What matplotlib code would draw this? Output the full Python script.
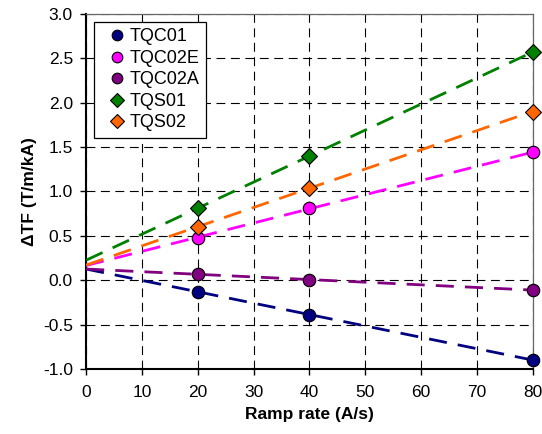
import numpy as np
import matplotlib
matplotlib.use("Agg")
import matplotlib.pyplot as plt

plt.rcParams['font.family'] = ['Liberation Sans', 'DejaVu Sans']

# ramp rates (A/s)
ramp = [20, 40, 80]

# delta TF per magnet (T/m/kA)
tqc01 = [-0.13, -0.39, -0.90]
tqc02e = [0.48, 0.81, 1.44]
tqc02a = [0.07, 0.00, -0.11]
tqs01 = [0.81, 1.40, 2.57]
tqs02 = [0.60, 1.04, 1.90]

names = ["TQC01", "TQC02E", "TQC02A", "TQS01", "TQS02"]
series = [tqc01, tqc02e, tqc02a, tqs01, tqs02]
colors = ["#000080", "#FF00FF", "#800080", "#008000", "#FF6600"]
markers = ["o", "o", "o", "D", "D"]

fig = plt.figure(figsize=(5.42, 4.34), dpi=100)
ax = fig.add_axes([0.159, 0.150, 0.824, 0.818])

xfit = np.array([0, 80])
for name, ys, c, m in zip(names, series, colors, markers):
    # linear trend line from 0 to 80
    k, b = np.polyfit(ramp, ys, 1)
    ax.plot(xfit, k * xfit + b, color=c, lw=2.0, dashes=(6.5, 4), zorder=3)
    ax.plot(ramp, ys, linestyle="none", marker=m, color=c, markeredgecolor="black",
            markeredgewidth=0.8, markersize=9 if m == "o" else 8, label=name,
            zorder=4, clip_on=False)

ax.set_xlim(0, 80)
ax.set_ylim(-1.0, 3.0)
ax.set_xticks(range(0, 81, 10))
ax.set_yticks(np.arange(-1.0, 3.01, 0.5))
ax.yaxis.set_major_formatter(matplotlib.ticker.FormatStrFormatter("%.1f"))
ax.grid(True, color="black", linestyle=(0, (8, 5)), lw=0.8)
ax.set_axisbelow(True)
ax.tick_params(direction="out", length=4.5, width=1, labelsize=12.5, colors="black")
ax.tick_params(axis="y", pad=5)
ax.tick_params(axis="x", pad=7)

for s in ["left", "bottom"]:
    ax.spines[s].set_linewidth(1.5)
for s in ["top", "right"]:
    ax.spines[s].set_color("#666666")
    ax.spines[s].set_linewidth(0.9)

ax.set_xlabel("Ramp rate (A/s)", fontsize=12.5, fontweight="bold", labelpad=5)
ax.set_ylabel("ΔTF (T/m/kA)", fontsize=12.5, fontweight="bold", labelpad=4)

leg = ax.legend(loc="upper left", bbox_to_anchor=(0.018, 0.977), borderaxespad=0,
                fontsize=13, frameon=True, fancybox=False, edgecolor="black",
                framealpha=1, markerscale=0.85, handletextpad=-0.2, borderpad=0.35,
                labelspacing=0.25, handlelength=1.8)
leg.get_frame().set_linewidth(0.9)

fig.savefig("out.png", dpi=100)
